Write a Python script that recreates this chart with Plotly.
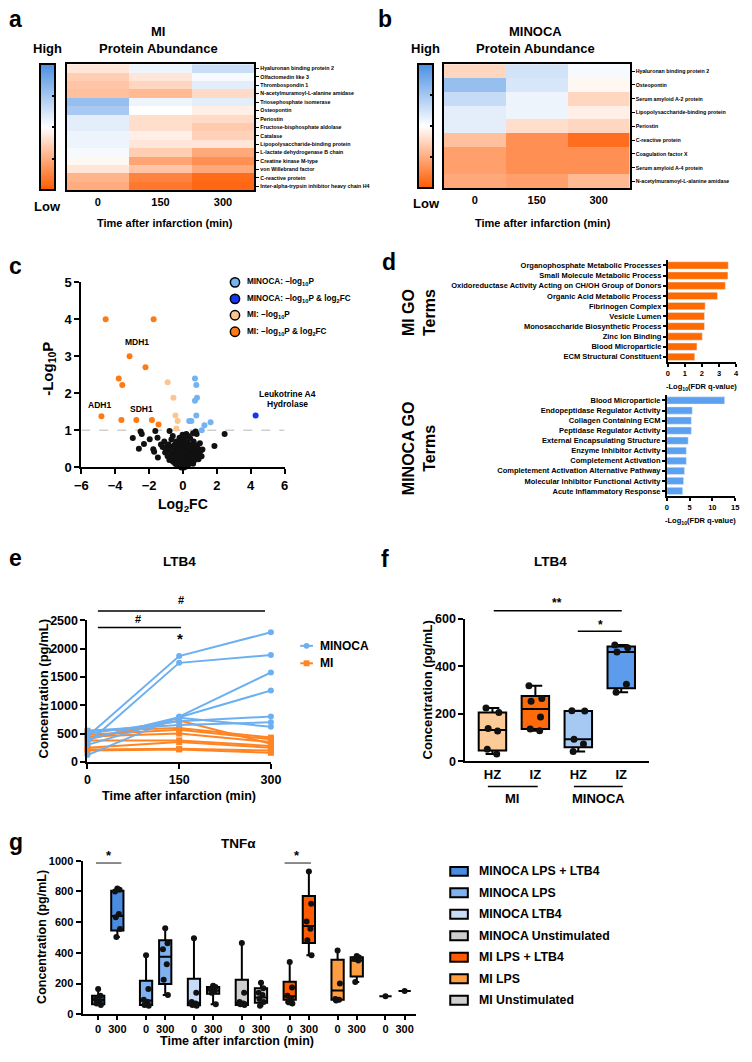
import plotly.graph_objects as go

W, H = 752, 1062
def fx(p): return p / W
def fy(p): return 1 - p / H

FONT = "Liberation Sans, Arial, sans-serif"
BLK = "black"

# ---------------- DATA ----------------
heat_times = ["0", "150", "300"]
mi_proteins = ["Hyaluronan binding protein 2", "Olfactomedin like 3", "Thrombospondin 1",
               "N-acetylmuramoyl-L-alanine amidase", "Triosephosphate isomerase", "Osteopontin",
               "Periostin", "Fructose-bisphosphate aldolase", "Catalase",
               "Lipopolysaccharide-binding protein", "L-lactate dehydrogenase B chain",
               "Creatine kinase M-type", "von Willebrand factor", "C-reactive protein",
               "Inter-alpha-trypsin inhibitor heavy chain H4"]
mi_abund = [[-0.15, 0.10, 0.30], [-0.30, -0.15, 0.05], [-0.35, -0.25, 0.15],
            [-0.38, -0.42, -0.22], [0.58, 0.10, 0.15], [0.48, 0.00, -0.10],
            [0.15, -0.20, -0.22], [0.15, -0.20, -0.32], [0.10, -0.10, -0.28],
            [0.10, -0.15, -0.15], [0.05, -0.30, -0.52], [-0.05, -0.55, -0.68],
            [-0.15, -0.35, -0.52], [-0.45, -0.75, -0.9], [-0.5, -0.82, -0.92]]
minoca_proteins = ["Hyaluronan binding protein 2", "Osteopontin", "Serum amyloid A-2 protein",
                   "Lipopolysaccharide-binding protein", "Periostin", "C-reactive protein",
                   "Coagulation factor X", "Serum amyloid A-4 protein",
                   "N-acetylmuramoyl-L-alanine amidase"]
minoca_abund = [[-0.25, 0.25, 0.05], [0.58, 0.22, -0.05], [0.32, 0.10, -0.25],
                [0.15, 0.10, -0.10], [0.15, -0.20, -0.25], [-0.38, -0.68, -0.88],
                [-0.58, -0.68, -0.68], [-0.58, -0.68, -0.68], [-0.52, -0.58, -0.42]]

# volcano
mi_fc_x = [-4.56, -1.73, -3.15, -2.21, -3.79, -3.58, -4.81, -3.63, -2.75, -1.83, -1.44]
mi_fc_y = [4.0, 4.0, 3.0, 2.7, 2.4, 2.22, 1.38, 1.28, 1.28, 1.28, 1.16]
mi_p_x = [-0.90, -0.56, -0.44, -0.31, -0.39]
mi_p_y = [2.30, 1.88, 1.40, 1.25, 1.05]
minoca_p_x = [0.71, 0.79, 0.83, 0.71, 0.79, 0.37, 0.50, 1.63, 1.27, 1.11]
minoca_p_y = [2.40, 2.22, 1.88, 1.80, 1.40, 1.25, 1.25, 1.22, 1.14, 1.00]
minoca_fc_x = [4.29]
minoca_fc_y = [1.40]
ns_x = [-2.96, -2.5, -2.43, -2.6, -2.3, -1.96, -1.63, -1.75, -1.7, -1.48, -1.5, -0.79, 2.46, 1.86,
        0.81, 0.75, 0.6, -1.3, -1.2, -1.1, -1.05, -0.95, -0.9, -0.85, -0.8, -0.75, -0.7, -0.68,
        -0.65, -0.6, -0.58, -0.55, -0.5, -0.48, -0.45, -0.42, -0.4, -0.38, -0.35, -0.32, -0.3,
        -0.28, -0.25, -0.22, -0.2, -0.18, -0.15, -0.12, -0.1, -0.08, -0.05, -0.03, 0.0, 0.02,
        0.04, 0.06, 0.08, 0.1, 0.12, 0.14, 0.16, 0.18, 0.2, 0.22, 0.25, 0.28, 0.3, 0.33, 0.35,
        0.38, 0.4, 0.43, 0.45, 0.48, 0.5, 0.53, 0.55, 0.58, 0.6, 0.63, 0.65, 0.7, 0.72, 0.78,
        0.82, 0.85, 0.9, 0.95, 1.0, 1.05, 1.1, -0.02, 0.3, -0.6, 0.05, -0.1, 0.15,
        -0.7, -0.55, -0.45, -0.35, -0.25, -0.15, -0.05, 0.05, 0.15, 0.25, 0.35, 0.45, 0.55,
        0.65, 0.75, -0.5, -0.3, -0.1, 0.1, 0.3, 0.5, 0.7, -0.4, -0.2, 0.0, 0.2, 0.4, 0.6,
        -0.25, -0.05, 0.12, 0.32, 0.52, -0.9, -1.0, 0.92, 1.15, -0.15, 0.08, 0.2]
ns_y = [0.79, 0.97, 0.9, 0.5, 0.63, 0.76, 0.98, 0.49, 0.42, 0.27, 0.8, 0.98, 0.9, 0.58,
        0.9, 0.97, 0.92, 0.62, 0.55, 0.7, 0.4, 0.5, 0.3, 0.62, 0.2, 0.45, 0.35, 0.75,
        0.55, 0.25, 0.15, 0.42, 0.6, 0.3, 0.1, 0.5, 0.22, 0.7, 0.38, 0.05, 0.28,
        0.6, 0.16, 0.45, 0.8, 0.33, 0.08, 0.55, 0.2, 0.4, 0.02, 0.65, 0.1, 0.3,
        0.5, 0.18, 0.75, 0.04, 0.38, 0.25, 0.6, 0.12, 0.45, 0.3, 0.68, 0.2, 0.5, 0.08, 0.35,
        0.58, 0.22, 0.78, 0.42, 0.14, 0.3, 0.62, 0.5, 0.25, 0.4, 0.7, 0.18, 0.55, 0.33, 0.45,
        0.6, 0.28, 0.5, 0.38, 0.65, 0.45, 0.3, 0.88, 0.85, 0.85, 0.0, 0.0, 0.02,
        0.48, 0.52, 0.62, 0.55, 0.5, 0.42, 0.48, 0.6, 0.55, 0.4, 0.48, 0.55, 0.42,
        0.52, 0.4, 0.32, 0.22, 0.28, 0.25, 0.15, 0.2, 0.28, 0.12, 0.1, 0.2, 0.08, 0.12, 0.1,
        0.35, 0.32, 0.42, 0.25, 0.32, 0.6, 0.52, 0.22, 0.48, 0.7, 0.62, 0.9]

# GO terms
mi_go_terms = ["Organophosphate Metabolic Processes", "Small Molecule Metabolic Process",
               "Oxidoreductase Activity Acting on CH/OH Group of Donors",
               "Organic Acid Metabolic Process", "Fibrinogen Complex", "Vesicle Lumen",
               "Monosaccharide Biosynthetic Process", "Zinc Ion Binding", "Blood Microparticle",
               "ECM Structural Constituent"]
mi_go_vals = [3.54, 3.52, 3.37, 2.91, 2.19, 2.15, 2.15, 2.02, 1.71, 1.58]
minoca_go_terms = ["Blood Microparticle", "Endopeptidase Regulator Activity",
                   "Collagen Containing ECM", "Peptidase Regulator Activity",
                   "External Encapsulating Structure", "Enzyme Inhibitor Activity",
                   "Completement Activation", "Completement Activation Alternative Pathway",
                   "Molecular Inhibitor Functional Activity", "Acute Inflammatory Response"]
minoca_go_vals = [12.7, 5.6, 5.4, 5.4, 4.7, 4.3, 4.3, 3.9, 3.7, 3.5]

# LTB4 time course (pg/mL), one row per patient at 0/150/300 min
e_times = [0, 150, 300]
minoca_ltb4 = [[450, 1870, 2290], [330, 1750, 1890], [120, 800, 1580], [400, 790, 1260],
               [500, 720, 800], [550, 650, 700], [300, 780, 620]]
mi_ltb4 = [[400, 730, 320], [550, 600, 430], [480, 570, 400], [450, 500, 350],
           [380, 380, 280], [250, 350, 250], [220, 230, 200], [200, 220, 160]]

# LTB4 HZ / IZ
f_labels = ["HZ", "IZ", "HZ", "IZ"]
f_points = [[224, 205, 138, 127, 50, 30], [318, 264, 252, 186, 136, 128],
            [213, 211, 92, 72, 41], [489, 478, 460, 324, 290]]
f_q1 = [45, 136, 59, 307]
f_med = [131, 220, 92, 460]
f_q3 = [205, 275, 211, 483]
f_min = [30, 128, 41, 290]
f_max = [224, 318, 213, 489]
f_colors = ["#FDCB98", "#FF6A0A", "#A6C9F4", "#5D9CEC"]

# TNFa
g_groups = ["MINOCA LPS + LTB4", "MINOCA LPS", "MINOCA LTB4", "MINOCA Unstimulated",
            "MI LPS + LTB4", "MI LPS", "MI Unstimulated"]
g_colors = ["#4A8CE0", "#7FB1EE", "#C6DCF7", "#D0D0D0", "#FF5A00", "#FF9E40", "#D0D0D0"]
g_tick_labels = ["0", "300"]
g_points = [[[165, 120, 100, 85, 70, 60], [820, 812, 800, 653, 632, 556, 503]],
            [[385, 165, 95, 80, 60, 55], [560, 462, 424, 326, 225, 125]],
            [[495, 140, 80, 70, 60, 55], [185, 178, 165, 150, 140, 65]],
            [[465, 140, 80, 70, 65, 60], [205, 170, 140, 125, 100, 80, 55]],
            [[340, 175, 120, 100, 80, 70], [930, 720, 605, 557, 482, 385]],
            [[415, 200, 100, 95, 90], [380, 370, 360, 350, 210]],
            [[118], [152]]]
g_q1 = [[65, 545], [60, 197], [58, 133], [60, 75], [95, 465], [95, 246], [118, 152]]
g_med = [[95, 640], [90, 375], [75, 155], [75, 110], [118, 575], [155, 350], [118, 152]]
g_q3 = [[120, 805], [218, 482], [231, 178], [225, 170], [212, 770], [355, 372], [118, 152]]
g_min = [[60, 503], [55, 125], [55, 65], [58, 55], [65, 385], [90, 210], [118, 152]]
g_max = [[165, 820], [385, 560], [495, 185], [465, 205], [340, 930], [415, 380], [118, 152]]

# ---------------- FIGURE ----------------
fig = go.Figure()
cscale = [[0, "#FF5A00"], [0.5, "#FFFFFF"], [1, "#4A8FE3"]]

def cbar(x0, y0, y1):
    return dict(x=fx(x0), xanchor="left", xpad=0, y=fy((y0 + y1) / 2), yanchor="middle", ypad=0,
                len=(y1 - y0) / H, lenmode="fraction", thickness=15, thicknessmode="pixels",
                outlinewidth=2, outlinecolor=BLK, ticks="inside", ticklen=4, tickwidth=1.5,
                tickcolor=BLK, showticklabels=False, tickvals=[-1, -0.5, 0, 0.5, 1])

fig.add_trace(go.Heatmap(z=mi_abund, x=heat_times, y=mi_proteins, colorscale=cscale, zmin=-1, zmax=1,
                         xaxis="x", yaxis="y", colorbar=cbar(34, 58, 186), hoverinfo="skip"))
fig.add_trace(go.Heatmap(z=minoca_abund, x=heat_times, y=minoca_proteins, colorscale=cscale, zmin=-1,
                         zmax=1, xaxis="x2", yaxis="y2", colorbar=cbar(420, 58, 184), hoverinfo="skip"))

# volcano
def vtrace(xs, ys, col):
    return go.Scatter(x=xs, y=ys, mode="markers", xaxis="x3", yaxis="y3", cliponaxis=False,
                      marker=dict(size=6, color=col, line=dict(width=0)))
fig.add_trace(vtrace(ns_x, ns_y, "#111111"))
fig.add_trace(vtrace(mi_p_x, mi_p_y, "#FBC58F"))
fig.add_trace(vtrace(mi_fc_x, mi_fc_y, "#FF7A12"))
fig.add_trace(vtrace(minoca_p_x, minoca_p_y, "#73B3F2"))
fig.add_trace(vtrace(minoca_fc_x, minoca_fc_y, "#1437F5"))

# GO bars
fig.add_trace(go.Bar(x=mi_go_vals, y=mi_go_terms, orientation="h", marker_color="#FF6A00",
                     width=0.72, xaxis="x4", yaxis="y4"))
fig.add_trace(go.Bar(x=minoca_go_vals, y=minoca_go_terms, orientation="h", marker_color="#5CA0F0",
                     width=0.72, xaxis="x5", yaxis="y5"))

# LTB4 lines
for row in mi_ltb4:
    fig.add_trace(go.Scatter(x=e_times, y=row, mode="lines+markers", xaxis="x6", yaxis="y6",
                             cliponaxis=False, line=dict(color="#FF8424", width=2),
                             marker=dict(symbol="square", size=6, color="#FF8424")))
for row in minoca_ltb4:
    fig.add_trace(go.Scatter(x=e_times, y=row, mode="lines+markers", xaxis="x6", yaxis="y6",
                             cliponaxis=False, line=dict(color="#6DB0F2", width=2),
                             marker=dict(symbol="circle", size=6, color="#6DB0F2")))

# LTB4 boxes
for i in range(4):
    fig.add_trace(go.Box(x=[i], q1=[f_q1[i]], median=[f_med[i]], q3=[f_q3[i]], lowerfence=[f_min[i]],
                         upperfence=[f_max[i]], width=0.64, whiskerwidth=0.5, fillcolor=f_colors[i],
                         line=dict(color=BLK, width=2), boxpoints=False, xaxis="x7", yaxis="y7"))
    offs = [-0.15, 0.15, -0.1, 0.12, -0.12, 0.1, 0.0]
    fig.add_trace(go.Scatter(x=[i + offs[k % len(offs)] for k in range(len(f_points[i]))], y=f_points[i],
                             mode="markers", xaxis="x7", yaxis="y7", cliponaxis=False,
                             marker=dict(size=7, color="#111111")))

# TNFa boxes
g_tickvals = []
g_ticktext = []
for gi in range(7):
    for j in range(2):
        pos = gi * 2.5 + j
        g_tickvals.append(pos)
        g_ticktext.append(g_tick_labels[j])
        fig.add_trace(go.Box(x=[pos], q1=[g_q1[gi][j]], median=[g_med[gi][j]], q3=[g_q3[gi][j]],
                             lowerfence=[g_min[gi][j]], upperfence=[g_max[gi][j]], width=0.64,
                             whiskerwidth=0.4, fillcolor=g_colors[gi], line=dict(color=BLK, width=2),
                             boxpoints=False, xaxis="x8", yaxis="y8"))
        pts = g_points[gi][j]
        offs = [0.0, 0.12, -0.12, 0.08, -0.08, 0.14, -0.05]
        fig.add_trace(go.Scatter(x=[pos + offs[k % len(offs)] for k in range(len(pts))], y=pts,
                                 mode="markers", xaxis="x8", yaxis="y8", cliponaxis=False,
                                 marker=dict(size=6, color="#111111")))

# ---------------- AXES ----------------
def tf(size):
    return dict(family=FONT, size=size, color=BLK, weight="bold")

base = dict(showgrid=False, zeroline=False, showline=True, linecolor=BLK, linewidth=2,
            ticks="outside", tickcolor=BLK, tickwidth=2)

lay = {}
# a heatmap
lay["xaxis"] = dict(domain=[fx(61), fx(253)], anchor="y", showgrid=False, zeroline=False, showline=True,
                    mirror=True, linecolor=BLK, linewidth=2, ticks="", tickfont=tf(11))
lay["yaxis"] = dict(domain=[fy(186), fy(58)], anchor="x", side="right", autorange="reversed",
                    showgrid=False, zeroline=False, showline=True, mirror=True, linecolor=BLK,
                    linewidth=2, ticks="outside", ticklen=3, tickwidth=1, tickcolor=BLK,
                    tickfont=tf(5.3))
lay["xaxis2"] = dict(lay["xaxis"], domain=[fx(447), fx(637)], anchor="y2")
lay["yaxis2"] = dict(lay["yaxis"], domain=[fy(184), fy(58)], anchor="x2")
# c volcano
lay["xaxis3"] = dict(base, domain=[fx(76), fx(284)], anchor="y3", range=[-6, 6], dtick=2,
                     ticklen=5, tickfont=tf(13))
lay["yaxis3"] = dict(base, domain=[fy(467), fy(279)], anchor="x3", range=[0, 5], dtick=1,
                     ticklen=5, tickfont=tf(13))
# d GO
lay["xaxis4"] = dict(base, domain=[fx(676), fx(746)], anchor="y4", range=[0, 4], dtick=1,
                     ticklen=3, tickwidth=1.5, linewidth=1.5, tickfont=tf(7.5))
lay["yaxis4"] = dict(base, domain=[fy(360), fy(257)], anchor="x4", autorange="reversed",
                     ticklen=3, tickwidth=1.5, linewidth=1.5, tickfont=tf(7.5))
lay["xaxis5"] = dict(base, domain=[fx(675), fx(745)], anchor="y5", range=[0, 15], dtick=5,
                     ticklen=3, tickwidth=1.5, linewidth=1.5, tickfont=tf(7.5))
lay["yaxis5"] = dict(base, domain=[fy(496), fy(394)], anchor="x5", autorange="reversed",
                     ticklen=3, tickwidth=1.5, linewidth=1.5, tickfont=tf(7.5))
# e lines
lay["xaxis6"] = dict(base, domain=[fx(82.3), fx(270)], anchor="y6", range=[0, 300],
                     tickvals=[0, 150, 300], ticklen=5, tickfont=tf(12.5))
lay["yaxis6"] = dict(base, domain=[fy(765.7), fy(622.2)], anchor="x6", range=[0, 2500],
                     dtick=500, ticklen=5, tickfont=tf(12.5))
# f boxes
lay["xaxis7"] = dict(base, domain=[fx(469), fx(657)], anchor="y7", range=[-0.63, 3.65],
                     tickvals=[0, 1, 2, 3], ticktext=f_labels, ticks="", tickfont=tf(13))
lay["yaxis7"] = dict(base, domain=[fy(765), fy(620.5)], anchor="x7", range=[0, 600], dtick=200,
                     ticklen=5, tickfont=tf(12.5))
# g boxes
lay["xaxis8"] = dict(base, domain=[fx(77.3), fx(418)], anchor="y8", range=[-0.816, 16.57],
                     tickvals=g_tickvals, ticktext=g_ticktext, ticklen=4, tickfont=tf(11))
lay["yaxis8"] = dict(base, domain=[fy(1021.7), fy(866)], anchor="x8", range=[0, 1000], dtick=200,
                     ticklen=5, tickfont=tf(11))

# ---------------- ANNOTATIONS & SHAPES ----------------
ann = []
shp = []

def text(x, y, s, size, angle=0, xanchor="center", bold=True):
    ann.append(dict(x=fx(x), y=fy(y), xref="paper", yref="paper", text=s, showarrow=False,
                    xanchor=xanchor, yanchor="middle", textangle=angle,
                    font=dict(family=FONT, size=size, color=BLK, weight="bold" if bold else "normal")))

def hline(x0, x1, y, color=BLK, width=1.5, dash=None):
    shp.append(dict(type="line", xref="paper", yref="paper", x0=fx(x0), x1=fx(x1), y0=fy(y), y1=fy(y),
                    line=dict(color=color, width=width, dash=dash)))

# letters
for lt, x, y in [("a", 9, 12), ("b", 387, 12), ("c", 9, 263), ("d", 391, 259), ("e", 9, 559),
                 ("f", 387, 560), ("g", 9, 847)]:
    text(x, y, lt, 23)

# a / b
text(155, 25, "MI", 13)
text(155, 42, "Protein Abundance", 13)
text(41, 42, "High", 13)
text(41, 202, "Low", 13)
text(162, 219, "Time after infarction (min)", 11)
text(541, 25, "MINOCA", 13)
text(541, 42, "Protein Abundance", 13)
text(428, 42, "High", 13)
text(429, 199, "Low", 13)
text(548, 219, "Time after infarction (min)", 11)

# c
text(180, 505, "Log<sub>2</sub>FC", 14)
text(43, 367, "-Log<sub>10</sub>P", 15, angle=-90)
text(133, 340, "MDH1", 8.5)
text(95, 404, "ADH1", 8.5)
text(138, 408, "SDH1", 8.5)
text(287, 393, "Leukotrine A4", 8.5)
text(287, 403, "Hydrolase", 8.5)
shp.append(dict(type="line", xref="x3", yref="y3", x0=-6, x1=6, y0=1, y1=1,
                line=dict(color="#CFCFCF", width=1.5, dash="dash"), layer="below"))
leg_c = [("#73B3F2", "MINOCA: \u2013log<sub>10</sub>P"),
         ("#1437F5", "MINOCA: \u2013log<sub>10</sub>P &amp; log<sub>2</sub>FC"),
         ("#FBC58F", "MI: \u2013log<sub>10</sub>P"),
         ("#FF7A12", "MI: \u2013log<sub>10</sub>P &amp; log<sub>2</sub>FC")]
for k, (col, lab) in enumerate(leg_c):
    yy = 279.3 + k * 16.7
    shp.append(dict(type="circle", xref="paper", yref="paper", x0=fx(228.5), x1=fx(238),
                    y0=fy(yy + 4.75), y1=fy(yy - 4.75), fillcolor=col, line=dict(color=BLK, width=1.5)))
    text(243, yy, lab, 8.2, xanchor="left")

# d
text(711, 385, "-Log<sub>10</sub>(FDR q-value)", 7.5)
text(710, 521, "-Log<sub>10</sub>(FDR q-value)", 7.5)
text(421, 310, "MI GO<br>Terms", 16, angle=-90)
text(421, 447, "MINOCA GO<br>Terms", 16, angle=-90)

# e
text(177, 562, "LTB4", 13.5)
text(37, 692, "Concentration (pg/mL)", 13, angle=-90)
text(176, 800, "Time after infarction (min)", 12.5)
hline(93, 264, 612.7)
text(178, 601, "#", 11)
hline(93, 178, 629.3)
text(134, 621, "#", 11)
text(177, 641, "*", 15)
for col, lab, yy, sym in [("#6DB0F2", "MINOCA", 648, "circle"), ("#FF8424", "MI", 665.7, "square")]:
    hline(300, 313, yy, color=col, width=2)
    if sym == "circle":
        shp.append(dict(type="circle", xref="paper", yref="paper", x0=fx(303.5), x1=fx(309.5),
                        y0=fy(yy + 3), y1=fy(yy - 3), fillcolor=col, line=dict(width=0)))
    else:
        shp.append(dict(type="rect", xref="paper", yref="paper", x0=fx(303.5), x1=fx(309.5),
                        y0=fy(yy + 3), y1=fy(yy - 3), fillcolor=col, line=dict(width=0)))
    text(318, yy, lab, 12, xanchor="left")

# f
text(556, 562, "LTB4", 13.5)
text(430, 693, "Concentration (pg/mL)", 13, angle=-90)
hline(498, 629, 612.3)
text(563, 605, "**", 12)
hline(584, 629, 633.3)
text(607, 627, "*", 12)
hline(492, 543, 790.7)
hline(580, 630, 790.7)
text(517, 803, "MI", 13)
text(605, 803, "MINOCA", 13)

# g
text(237, 848, "TNF\u03b1", 13.5)
text(35, 943, "Concentration (pg/mL)", 12.5, angle=-90)
text(235, 1049, "Time after infarction (min)", 12.5)
hline(91, 117, 868.3, color="#666666", width=1.5)
text(104, 861, "*", 13)
hline(284, 311, 868.3, color="#666666", width=1.5)
text(297, 861, "*", 13)
for k, (lab, col) in enumerate(zip(g_groups, g_colors)):
    yy = 876.7 + k * 21.8
    shp.append(dict(type="rect", xref="paper", yref="paper", x0=fx(453.5), x1=fx(471.5),
                    y0=fy(yy + 4.5), y1=fy(yy - 4.5), fillcolor=col, line=dict(color=BLK, width=2)))
    text(481, yy, lab, 12.3, xanchor="left")

fig.update_layout(width=W, height=H, margin=dict(l=0, r=0, t=0, b=0), paper_bgcolor="white",
                  plot_bgcolor="rgba(0,0,0,0)", showlegend=False, annotations=ann, shapes=shp,
                  font=dict(family=FONT, color=BLK), **lay)
fig.write_html("out.html")
